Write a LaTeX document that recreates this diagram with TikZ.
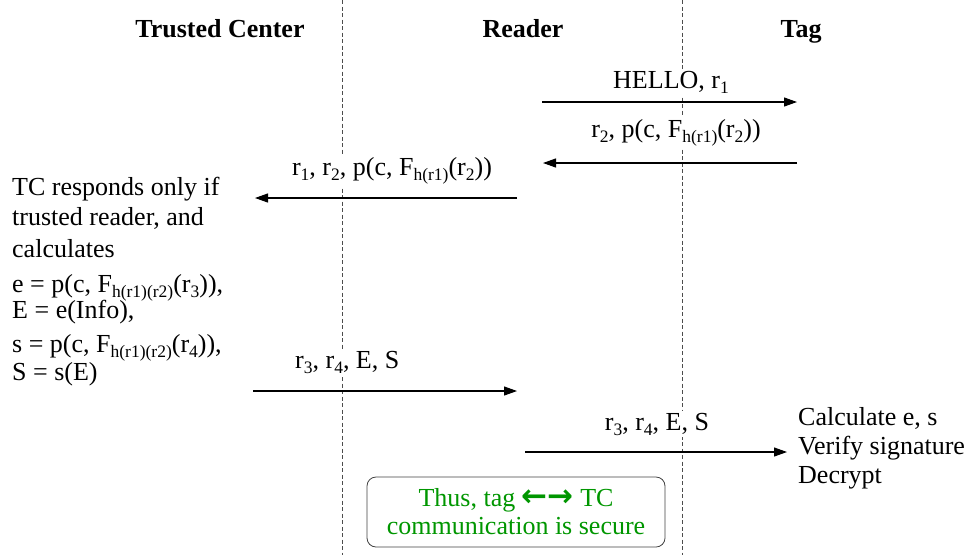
\documentclass[tikz,border=0pt]{standalone}
\usepackage{fontspec}
\setmainfont{Liberation Serif}
\newfontfamily\arrowfont{DejaVu Sans}
\usetikzlibrary{arrows.meta}
% lowered, reduced-size index text
\newcommand\sub[1]{\raisebox{-5pt}{\fontsize{17.5}{17.5}\selectfont #1}}
\definecolor{notegreen}{RGB}{0,150,0}
\begin{document}
\begin{tikzpicture}[x=1pt,y=-1pt,
  font=\fontsize{26}{30}\selectfont,
  lifeline/.style={draw=black!70, line width=0.8pt, dash pattern=on 4pt off 2.5pt},
  msg/.style={line width=1.1pt, -{Triangle[length=13pt,width=9pt]}},
  lbl/.style={fill=white, inner sep=2pt, anchor=base},
  hdr/.style={font=\fontsize{26}{30}\selectfont\bfseries, anchor=base, inner sep=0pt},
  txt/.style={anchor=base west, inner sep=0pt},
  notebox/.style={draw=black!75, line width=0.8pt, rounded corners=9pt,
    minimum width=298pt, minimum height=70pt, text=notegreen, align=center,
    inner sep=0pt, font=\fontsize{26}{28}\selectfont}]
\useasboundingbox (0,0) rectangle (971,555);

% column headers
\node[hdr] (tc) at (220,37) {Trusted Center};
\node[hdr] (rd) at (523,37) {Reader};
\node[hdr] (tg) at (801,37) {Tag};

% lifeline separators
\coordinate (s1t) at (342,0);  \coordinate (s1b) at (342,555);
\coordinate (s2t) at (682,0);  \coordinate (s2b) at (682,555);
\draw[lifeline] (s1t) -- (s1b);
\draw[lifeline] (s2t) -- (s2b);

% message 1: reader -> tag
\coordinate (m1a) at (542,102); \coordinate (m1b) at (797,102);
\draw[msg] (m1a) -- (m1b);
\node[lbl] (m1l) at (671,88) {HELLO, r\sub{1}};

% message 2: tag -> reader
\coordinate (m2a) at (797,163); \coordinate (m2b) at (543,163);
\draw[msg] (m2a) -- (m2b);
\node[lbl] (m2l) at (676,137) {r\sub{2}, p(c, F\sub{h(r1)}(r\sub{2}))};

% message 3: reader -> trusted center
\coordinate (m3a) at (517,198); \coordinate (m3b) at (255,198);
\draw[msg] (m3a) -- (m3b);
\node[lbl] (m3l) at (392,175) {r\sub{1}, r\sub{2}, p(c, F\sub{h(r1)}(r\sub{2}))};

% trusted center computation
\node[txt] (c1) at (12,195) {TC responds only if};
\node[txt] (c2) at (12,225) {trusted reader, and};
\node[txt] (c3) at (12,257) {calculates};
\node[txt] (c4) at (12,292) {e = p(c, F\sub{h(r1)(r2)}(r\sub{3})),};
\node[txt] (c5) at (12,318) {E = e(Info),};
\node[txt] (c6) at (12,352) {s = p(c, F\sub{h(r1)(r2)}(r\sub{4})),};
\node[txt] (c7) at (12,380) {S = s(E)};

% message 4: trusted center -> reader
\coordinate (m4a) at (253,391); \coordinate (m4b) at (517,391);
\draw[msg] (m4a) -- (m4b);
\node[lbl, anchor=base west] (m4l) at (293,368) {r\sub{3}, r\sub{4}, E, S};

% message 5: reader -> tag
\coordinate (m5a) at (525,452); \coordinate (m5b) at (787,452);
\draw[msg] (m5a) -- (m5b);
\node[lbl] (m5l) at (657,430) {r\sub{3}, r\sub{4}, E, S};

% tag computation
\node[txt] (t1) at (798,425) {Calculate e, s};
\node[txt] (t2) at (798,454) {Verify signature};
\node[txt] (t3) at (798,483) {Decrypt};

% conclusion
\node[notebox] (note) at (516,512)
  {Thus, tag {\arrowfont\bfseries\fontsize{31}{28}\selectfont ←→} TC\\communication is secure};
\end{tikzpicture}
\end{document}
